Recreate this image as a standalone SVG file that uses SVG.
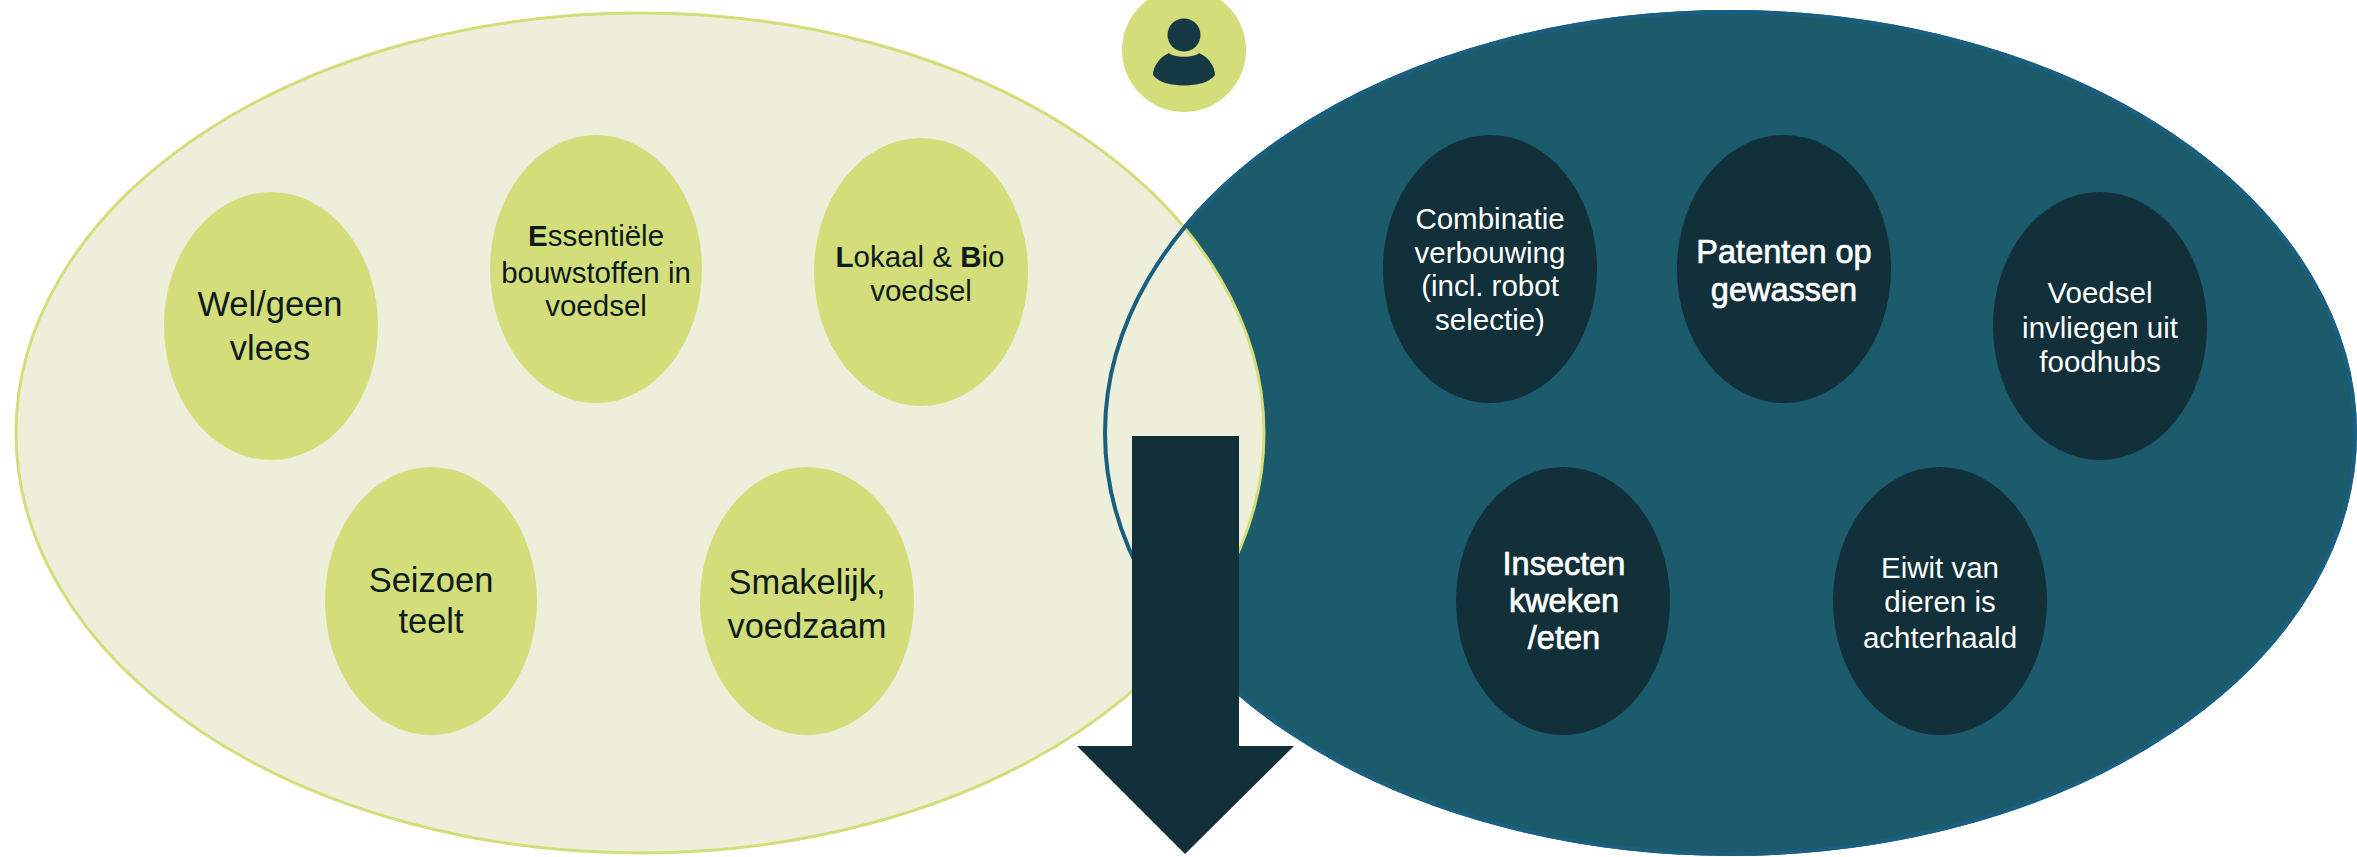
<svg xmlns="http://www.w3.org/2000/svg" width="2357" height="857" viewBox="0 0 2357 857">
<style>
text{font-family:"Liberation Sans",Arial,sans-serif;text-anchor:middle}
.lt{fill:#d3de7b}
.dk{fill:#113039}
.b{fill:#0c1c1c}
.w{fill:#fff}
.f34{font-size:34.500px}
.f30{font-size:29.500px}
.hv{font-size:32.500px;stroke:#fff;stroke-width:.7px}
.s{font-weight:bold}
</style>
<rect width="2357" height="857" fill="#fff"/>
<g id="set-right"><ellipse cx="1730" cy="433" rx="625" ry="421" fill="#1b5b6b" stroke="#1a5f80" stroke-width="4"/></g>
<g id="set-left"><ellipse cx="640" cy="433" rx="624" ry="420" fill="#edefdb" stroke="#d3de7b" stroke-width="3"/></g>
<g id="set-right-outline"><ellipse cx="1730" cy="433" rx="625" ry="421" fill="none" stroke="#1a5f80" stroke-width="4"/></g>
<g id="person">
<circle class="lt" cx="1184" cy="50" r="62"/>
<circle cx="1184" cy="35" r="16.500" fill="#153a45"/>
<path d="M1169 53C1174 58 1194 58 1199 53C1208 57 1215 66 1215 75C1210 82 1198 85.500 1184 85.500C1170 85.500 1158 82 1153 75C1153 66 1160 57 1169 53Z" fill="#153a45"/>
</g>
<g id="n1"><ellipse class="lt" cx="271" cy="326" rx="107" ry="134"/><text class="b f34"><tspan x="270" y="316">Wel/geen</tspan><tspan x="270" y="360">vlees</tspan></text></g>
<g id="n2"><ellipse class="lt" cx="596" cy="269" rx="106" ry="134"/><text class="b f30"><tspan x="596" y="246"><tspan class="s">E</tspan>ssentiële</tspan><tspan x="596" y="283">bouwstoffen in</tspan><tspan x="596" y="316">voedsel</tspan></text></g>
<g id="n3"><ellipse class="lt" cx="921" cy="272" rx="107" ry="134"/><text class="b f30"><tspan x="920" y="267"><tspan class="s">L</tspan>okaal &amp; <tspan class="s">B</tspan>io</tspan><tspan x="921" y="301">voedsel</tspan></text></g>
<g id="n4"><ellipse class="lt" cx="431" cy="601" rx="106" ry="134"/><text class="b f34"><tspan x="431" y="592">Seizoen</tspan><tspan x="431" y="633">teelt</tspan></text></g>
<g id="n5"><ellipse class="lt" cx="807" cy="601" rx="107" ry="134"/><text class="b f34"><tspan x="807" y="594">Smakelijk,</tspan><tspan x="807" y="638">voedzaam</tspan></text></g>
<g id="n6"><ellipse class="dk" cx="1490" cy="269" rx="107" ry="134"/><text class="w f30"><tspan x="1490" y="229">Combinatie</tspan><tspan x="1490" y="263">verbouwing</tspan><tspan x="1490" y="296">(incl. robot</tspan><tspan x="1490" y="330">selectie)</tspan></text></g>
<g id="n7"><ellipse class="dk" cx="1784" cy="269" rx="107" ry="134"/><text class="w hv"><tspan x="1784" y="263">Patenten op</tspan><tspan x="1784" y="301">gewassen</tspan></text></g>
<g id="n8"><ellipse class="dk" cx="2100" cy="326" rx="107" ry="134"/><text class="w f30"><tspan x="2100" y="303">Voedsel</tspan><tspan x="2100" y="338">invliegen uit</tspan><tspan x="2100" y="372">foodhubs</tspan></text></g>
<g id="n9"><ellipse class="dk" cx="1563" cy="601" rx="107" ry="134"/><text class="w hv"><tspan x="1564" y="575">Insecten</tspan><tspan x="1564" y="612">kweken</tspan><tspan x="1564" y="649">/eten</tspan></text></g>
<g id="n10"><ellipse class="dk" cx="1940" cy="601" rx="107" ry="134"/><text class="w f30"><tspan x="1940" y="578">Eiwit van</tspan><tspan x="1940" y="612">dieren is</tspan><tspan x="1940" y="648">achterhaald</tspan></text></g>
<g id="connectors"><path d="M1132 436H1239V746H1294L1185 854L1077 746H1132Z" fill="#113039"/></g>
</svg>
